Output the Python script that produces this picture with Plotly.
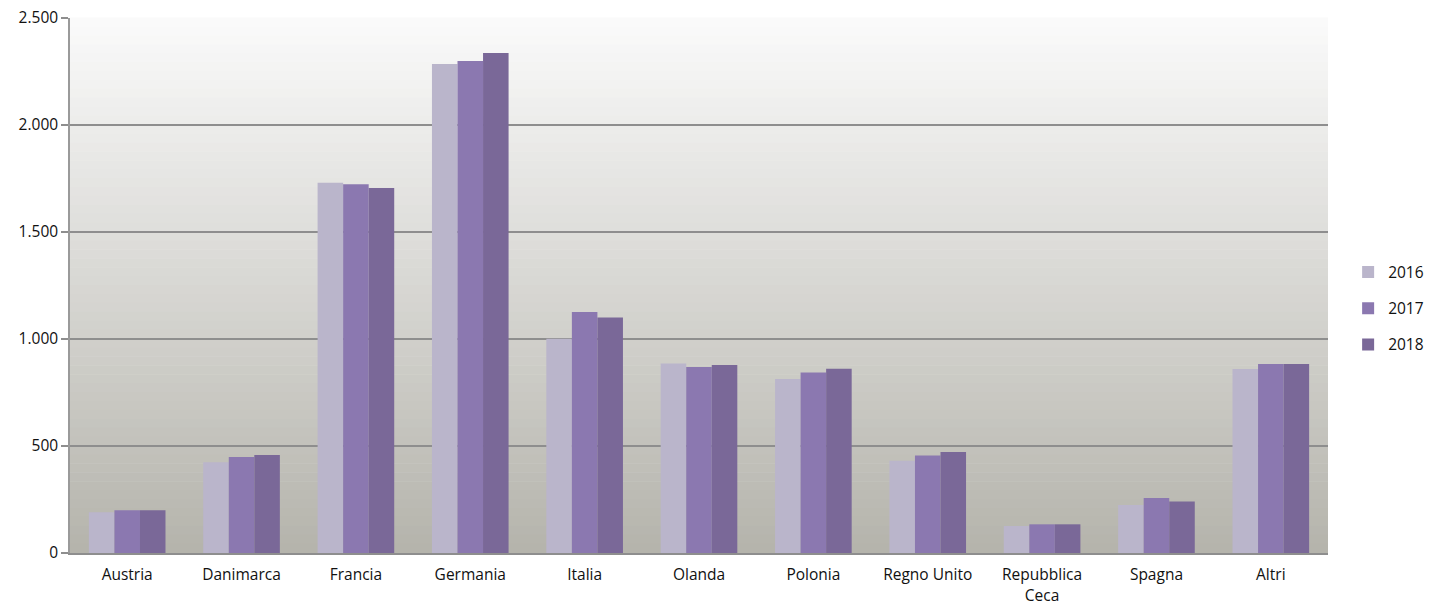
import plotly.graph_objects as go

categories = ["Austria", "Danimarca", "Francia", "Germania", "Italia", "Olanda",
              "Polonia", "Regno Unito", "Repubblica<br>Ceca", "Spagna", "Altri"]
years = ["2016", "2017", "2018"]
v2016 = [190, 424, 1730, 2285, 1001, 886, 813, 431, 126, 224, 860]
v2017 = [200, 449, 1723, 2299, 1126, 869, 844, 456, 134, 257, 883]
v2018 = [200, 458, 1706, 2336, 1101, 878, 861, 472, 134, 241, 883]
colors = ["#BAB5CB", "#8B78B0", "#7A6898"]
y_ticks = [0, 500, 1000, 1500, 2000, 2500]

fig = go.Figure()
for name, vals, col in zip(years, [v2016, v2017, v2018], colors):
    fig.add_trace(go.Bar(x=categories, y=vals, name=name, legendgroup=name,
                         marker=dict(color=col, line=dict(width=0))))

# gradient background (white at top -> grey at bottom)
n = 60
top = (250, 250, 250)
bot = (181, 180, 172)
shapes = []
for i in range(n):
    t = i / (n - 1)
    c = tuple(int(round(top[k] + (bot[k] - top[k]) * t)) for k in range(3))
    shapes.append(dict(type="rect", xref="paper", yref="paper",
                       x0=0, x1=1, y0=1 - (i + 1) / n, y1=1 - i / n + 0.001,
                       fillcolor="rgb(%d,%d,%d)" % c, line=dict(width=0),
                       layer="below"))

font = "Open Sans, Noto Sans, sans-serif"
fig.update_layout(
    width=1434, height=605,
    margin=dict(l=70, r=106, t=18, b=52, autoexpand=False),
    paper_bgcolor="white", plot_bgcolor="rgba(0,0,0,0)",
    barmode="group", bargap=0.33, bargroupgap=0,
    separators=",.",
    font=dict(family=font, size=15.5, color="#111111"),
    shapes=shapes,
    showlegend=True,
    legend=dict(x=1.016, y=0.457, xanchor="left", yanchor="middle",
                font=dict(size=15.5), tracegroupgap=13, traceorder="grouped",
                itemwidth=30, bgcolor="rgba(0,0,0,0)"),
    xaxis=dict(showgrid=False, showline=True, linecolor="#8E8E8E", linewidth=1.5,
               ticks="outside", ticklen=7, tickcolor="rgba(0,0,0,0)",
               tickfont=dict(size=15.5), tickangle=0, automargin=False),
    yaxis=dict(range=[0, 2500], tickvals=y_ticks, tickformat=",d",
               showgrid=True, gridcolor="#8E8E8E", gridwidth=1.5,
               showline=True, linecolor="#9A9A9A", linewidth=1.5,
               ticks="outside", ticklen=7, tickcolor="#8E8E8E", tickwidth=1.5,
               tickfont=dict(size=15.5), zeroline=False, automargin=False),
)
fig.write_html("out.html", config={"displayModeBar": False},
               post_script="document.body.style.margin='0';")
